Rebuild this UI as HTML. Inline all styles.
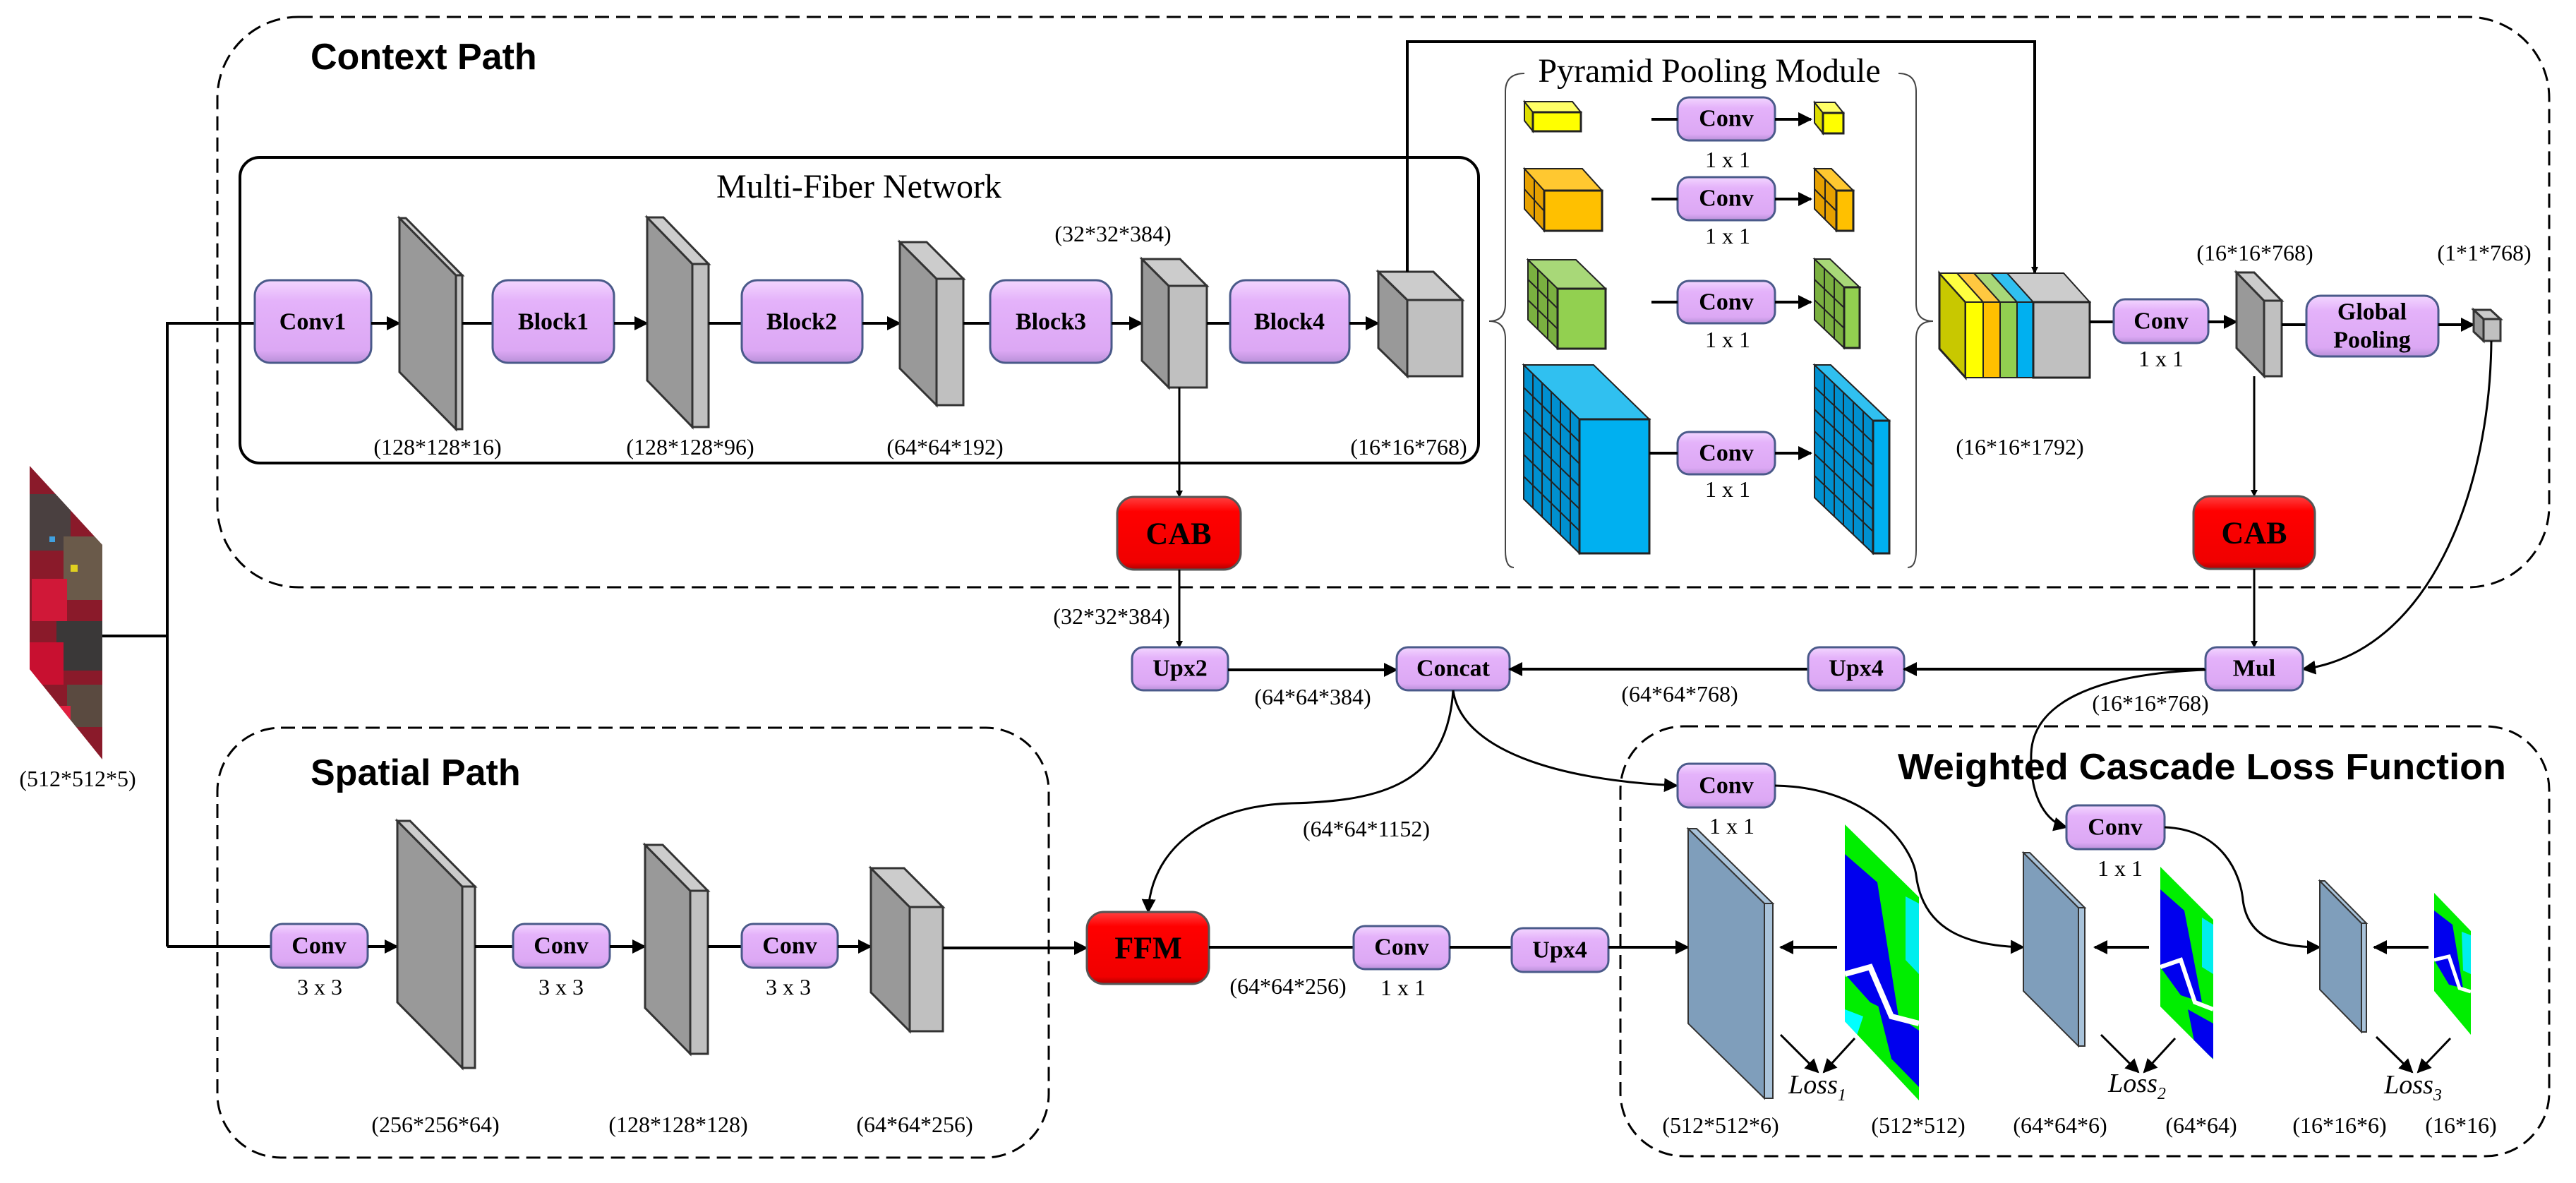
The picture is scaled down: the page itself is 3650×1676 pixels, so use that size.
<!DOCTYPE html>
<html><head><meta charset="utf-8"><style>
html,body{margin:0;padding:0;background:#fff}
svg{display:block}
.lb{font-family:"Liberation Serif",serif;font-size:32px;fill:#000;text-anchor:middle}
.bt{font-family:"Liberation Serif",serif;font-size:34px;font-weight:bold;fill:#000;text-anchor:middle;dominant-baseline:central}
.ht{font-family:"Liberation Sans",sans-serif;font-size:52px;font-weight:bold;fill:#000}
.pb{fill:url(#pg);stroke:#4a5a8a;stroke-width:3}
.rb{fill:url(#rg);stroke:#555;stroke-width:3}
.ln{stroke:#000;stroke-width:4;fill:none}
.tn{stroke:#000;stroke-width:3;fill:none}
.sd{fill:#999;stroke:#333;stroke-width:3}
.fr{fill:#c0c0c0;stroke:#333;stroke-width:3}
.tp{fill:#ccc;stroke:#333;stroke-width:3}
.bs{fill:#7f9ebb;stroke:#333;stroke-width:2}
.bf{fill:#a9c3da;stroke:#333;stroke-width:2}
.gl{stroke:#222;stroke-width:2;fill:none}
</style></head><body>
<svg width="3650" height="1676" viewBox="0 0 3650 1676" xmlns="http://www.w3.org/2000/svg">
<defs>
<linearGradient id="pg" x1="0" y1="0" x2="0" y2="1"><stop offset="0" stop-color="#f3d6ff"/><stop offset="0.25" stop-color="#e4b2fa"/><stop offset="0.85" stop-color="#dca8f4"/><stop offset="1" stop-color="#b890d8"/></linearGradient>
<linearGradient id="rg" x1="0" y1="0" x2="0" y2="1"><stop offset="0" stop-color="#ff4040"/><stop offset="0.2" stop-color="#ff0000"/><stop offset="0.9" stop-color="#f00000"/><stop offset="1" stop-color="#b00000"/></linearGradient>
<linearGradient id="img" x1="0" y1="0" x2="1" y2="1"><stop offset="0" stop-color="#b01030"/><stop offset="0.3" stop-color="#5a4a48"/><stop offset="0.5" stop-color="#c01838"/><stop offset="0.7" stop-color="#6a5a50"/><stop offset="1" stop-color="#a01030"/></linearGradient>
<marker id="ar" markerWidth="10" markerHeight="10" refX="9" refY="5" orient="auto" markerUnits="userSpaceOnUse" viewBox="0 0 10 10"><path d="M0,0 L10,5 L0,10 z" fill="#000"/></marker>
<marker id="ab" markerWidth="20" markerHeight="20" refX="18" refY="10" orient="auto" markerUnits="userSpaceOnUse" viewBox="0 0 20 20"><path d="M0,0 L20,10 L0,20 z" fill="#000"/></marker>
<clipPath id="m1"><polygon points="2614,1168 2719,1271 2719,1559 2614,1447"/></clipPath>
<clipPath id="m2"><polygon points="3061,1228 3136,1303 3136,1501 3061,1426"/></clipPath>
<clipPath id="m3"><polygon points="3449,1265 3501,1319 3501,1466 3449,1404"/></clipPath>
<clipPath id="im"><polygon points="42,660 145,772 145,1076 42,948"/></clipPath>
</defs>

<!-- dashed containers -->
<rect x="308" y="24" width="3304" height="808" rx="115" ry="115" fill="none" stroke="#000" stroke-width="3" stroke-dasharray="20,10"/>
<rect x="308" y="1031" width="1178" height="609" rx="90" ry="90" fill="none" stroke="#000" stroke-width="3" stroke-dasharray="20,10"/>
<rect x="2296" y="1029" width="1316" height="609" rx="90" ry="90" fill="none" stroke="#000" stroke-width="3" stroke-dasharray="20,10"/>
<text class="ht" x="440" y="98">Context Path</text>
<text class="ht" x="440" y="1112">Spatial Path</text>
<text class="ht" x="2689" y="1104" textLength="862" lengthAdjust="spacingAndGlyphs">Weighted Cascade Loss Function</text>

<!-- MFN -->
<rect x="340" y="223" width="1755" height="433" rx="28" fill="none" stroke="#000" stroke-width="4"/>
<text x="1217" y="280" style="font-family:'Liberation Serif',serif;font-size:48px;text-anchor:middle">Multi-Fiber Network</text>

<!-- input image -->
<g clip-path="url(#im)">
<rect x="40" y="650" width="110" height="430" fill="#8a1a2a"/>
<rect x="40" y="700" width="60" height="80" fill="#4a4040"/>
<rect x="90" y="760" width="60" height="90" fill="#6a5a4a"/>
<rect x="45" y="820" width="50" height="60" fill="#d01838"/>
<rect x="80" y="880" width="70" height="70" fill="#3a3838"/>
<rect x="40" y="910" width="50" height="60" fill="#c81030"/>
<rect x="95" y="970" width="55" height="60" fill="#5a4a40"/>
<rect x="60" y="1000" width="40" height="40" fill="#e02040"/>
<rect x="100" y="800" width="10" height="10" fill="#e0d020"/>
<rect x="70" y="760" width="8" height="8" fill="#40a0e0"/>
</g>
<text class="lb" x="110" y="1114">(512*512*5)</text>

<!-- input lines -->
<polyline class="ln" points="145,901 237,901"/>
<polyline class="ln" points="237,1341 237,458 361,458"/>
<polyline class="ln" points="237,1341 384,1341"/>

<!-- main row -->
<rect class="pb" x="361" y="397" width="165" height="117" rx="22"/><text class="bt" x="443" y="456">Conv1</text>
<line class="ln" x1="526" y1="458" x2="566" y2="458" marker-end="url(#ab)"/>
<polygon class="sd" points="566,309 646,390 646,608 566,527"/><polygon class="tp" points="566,309 575,309 655,390 646,390"/><rect class="fr" x="646" y="390" width="9" height="218"/>
<line class="ln" x1="655" y1="458" x2="698" y2="458"/>
<rect class="pb" x="698" y="397" width="172" height="117" rx="22"/><text class="bt" x="784" y="456">Block1</text>
<line class="ln" x1="870" y1="458" x2="917" y2="458" marker-end="url(#ab)"/>
<polygon class="sd" points="917,308 981,374 981,605 917,539"/><polygon class="tp" points="917,308 940,308 1004,374 981,374"/><rect class="fr" x="981" y="374" width="23" height="231"/>
<line class="ln" x1="1004" y1="458" x2="1051" y2="458"/>
<rect class="pb" x="1051" y="397" width="171" height="117" rx="22"/><text class="bt" x="1136" y="456">Block2</text>
<line class="ln" x1="1222" y1="458" x2="1275" y2="458" marker-end="url(#ab)"/>
<polygon class="sd" points="1275,343 1327,395 1327,574 1275,522"/><polygon class="tp" points="1275,343 1313,343 1365,395 1327,395"/><rect class="fr" x="1327" y="395" width="38" height="179"/>
<line class="ln" x1="1365" y1="458" x2="1403" y2="458"/>
<rect class="pb" x="1403" y="397" width="172" height="117" rx="22"/><text class="bt" x="1489" y="456">Block3</text>
<line class="ln" x1="1575" y1="458" x2="1618" y2="458" marker-end="url(#ab)"/>
<polygon class="sd" points="1618,367 1656,405 1656,549 1618,511"/><polygon class="tp" points="1618,367 1672,367 1710,405 1656,405"/><rect class="fr" x="1656" y="405" width="54" height="144"/>
<line class="ln" x1="1710" y1="458" x2="1743" y2="458"/>
<rect class="pb" x="1743" y="397" width="169" height="117" rx="22"/><text class="bt" x="1827" y="456">Block4</text>
<line class="ln" x1="1912" y1="458" x2="1953" y2="458" marker-end="url(#ab)"/>
<polygon class="sd" points="1953,385 1994,425 1994,533 1953,493"/><polygon class="tp" points="1953,385 2031,385 2072,425 1994,425"/><rect class="fr" x="1994" y="425" width="78" height="108"/>

<text class="lb" x="1577" y="342">(32*32*384)</text>
<text class="lb" x="620" y="644">(128*128*16)</text>
<text class="lb" x="978" y="644">(128*128*96)</text>
<text class="lb" x="1339" y="644">(64*64*192)</text>
<text class="lb" x="1996" y="644">(16*16*768)</text>

<!-- skip line to concat block -->
<polyline class="ln" points="1994,385 1994,59 2883,59 2883,387" marker-end="url(#ar)"/>

<!-- CAB1 -->
<line class="tn" x1="1671" y1="549" x2="1671" y2="704" marker-end="url(#ar)"/>
<rect class="rb" x="1583" y="704" width="175" height="103" rx="24"/><text class="bt" x="1670" y="756" style="font-size:44px">CAB</text>
<line class="tn" x1="1671" y1="807" x2="1671" y2="917" marker-end="url(#ar)"/>
<text class="lb" x="1575" y="884">(32*32*384)</text>

<!-- PPM -->
<text x="2422" y="116" style="font-family:'Liberation Serif',serif;font-size:48px;text-anchor:middle">Pyramid Pooling Module</text>
<path d="M2160,104 Q2133,104 2133,130 L2133,430 Q2133,455 2110,455 Q2133,455 2133,480 L2133,780 Q2133,804 2145,804" fill="none" stroke="#444" stroke-width="2"/>
<path d="M2690,104 Q2715,104 2715,130 L2715,430 Q2715,455 2739,455 Q2715,455 2715,480 L2715,780 Q2715,804 2703,804" fill="none" stroke="#444" stroke-width="2"/>

<!-- yellow -->
<polygon points="2160,144 2172,159 2172,186 2160,171" fill="#dddd00" stroke="#222" stroke-width="2"/>
<polygon points="2160,144 2228,144 2240,159 2172,159" fill="#ffff66" stroke="#222" stroke-width="2"/>
<rect x="2172" y="159" width="68" height="27" fill="#ffff00" stroke="#222" stroke-width="3"/>
<!-- orange -->
<polygon points="2160,239 2188,270 2188,327 2160,296" fill="#e6a000" stroke="#222" stroke-width="2"/>
<polygon points="2160,239 2242,239 2270,270 2188,270" fill="#ffc830" stroke="#222" stroke-width="2"/>
<rect x="2188" y="270" width="82" height="57" fill="#ffc000" stroke="#222" stroke-width="3"/>
<path class="gl" d="M2174,254 L2174,311 M2160,268 L2188,299"/>
<!-- green -->
<polygon points="2165,368 2207,409 2207,494 2165,453" fill="#7ab040" stroke="#222" stroke-width="2"/>
<polygon points="2165,368 2233,368 2275,409 2207,409" fill="#a8d878" stroke="#222" stroke-width="2"/>
<rect x="2207" y="409" width="68" height="85" fill="#92d050" stroke="#222" stroke-width="3"/>
<path class="gl" d="M2179,382 L2179,467 M2193,395 L2193,480 M2165,396 L2207,437 M2165,425 L2207,466"/>
<!-- blue -->
<polygon points="2159,517 2238,594 2238,784 2159,707" fill="#0090d0" stroke="#222" stroke-width="2"/>
<polygon points="2159,517 2258,517 2337,594 2238,594" fill="#30c0f0" stroke="#222" stroke-width="2"/>
<rect x="2238" y="594" width="99" height="190" fill="#00b0f0" stroke="#222" stroke-width="3"/>
<path class="gl" d="M2172,530 L2172,720 M2185,542 L2185,732 M2198,555 L2198,745 M2211,568 L2211,758 M2225,581 L2225,771 M2159,549 L2238,626 M2159,580 L2238,657 M2159,612 L2238,689 M2159,644 L2238,721 M2159,675 L2238,752"/>

<!-- PPM convs -->
<rect class="pb" x="2377" y="138" width="138" height="61" rx="16"/><text class="bt" x="2446" y="168">Conv</text>
<rect class="pb" x="2377" y="251" width="138" height="61" rx="16"/><text class="bt" x="2446" y="281">Conv</text>
<rect class="pb" x="2377" y="398" width="138" height="60" rx="16"/><text class="bt" x="2446" y="428">Conv</text>
<rect class="pb" x="2377" y="612" width="138" height="60" rx="16"/><text class="bt" x="2446" y="642">Conv</text>
<text class="lb" x="2448" y="237">1 x 1</text><text class="lb" x="2448" y="345">1 x 1</text><text class="lb" x="2448" y="492">1 x 1</text><text class="lb" x="2448" y="704">1 x 1</text>
<line class="ln" x1="2340" y1="169" x2="2377" y2="169"/><line class="ln" x1="2340" y1="282" x2="2377" y2="282"/><line class="ln" x1="2340" y1="428" x2="2377" y2="428"/><line class="ln" x1="2337" y1="642" x2="2377" y2="642"/>
<line class="ln" x1="2515" y1="169" x2="2566" y2="169" marker-end="url(#ab)"/><line class="ln" x1="2515" y1="282" x2="2566" y2="282" marker-end="url(#ab)"/><line class="ln" x1="2515" y1="428" x2="2566" y2="428" marker-end="url(#ab)"/><line class="ln" x1="2515" y1="642" x2="2566" y2="642" marker-end="url(#ab)"/>

<!-- PPM outputs -->
<polygon points="2571,145 2583,160 2583,189 2571,174" fill="#dddd00" stroke="#222" stroke-width="2"/>
<polygon points="2571,145 2600,145 2612,160 2583,160" fill="#ffff66" stroke="#222" stroke-width="2"/>
<rect x="2583" y="160" width="29" height="29" fill="#ffff00" stroke="#222" stroke-width="3"/>
<polygon points="2571,239 2602,270 2602,327 2571,296" fill="#e6a000" stroke="#222" stroke-width="2"/>
<polygon points="2571,239 2595,239 2626,270 2602,270" fill="#ffc830" stroke="#222" stroke-width="2"/>
<rect x="2602" y="270" width="24" height="57" fill="#ffc000" stroke="#222" stroke-width="3"/>
<path class="gl" d="M2586,254 L2586,311 M2571,268 L2602,299"/>
<polygon points="2571,367 2613,407 2613,493 2571,453" fill="#7ab040" stroke="#222" stroke-width="2"/>
<polygon points="2571,367 2593,367 2635,407 2613,407" fill="#a8d878" stroke="#222" stroke-width="2"/>
<rect x="2613" y="407" width="22" height="86" fill="#92d050" stroke="#222" stroke-width="3"/>
<path class="gl" d="M2585,380 L2585,466 M2599,394 L2599,480 M2571,396 L2613,436 M2571,425 L2613,465"/>
<polygon points="2571,517 2654,596 2654,784 2571,705" fill="#0090d0" stroke="#222" stroke-width="2"/>
<polygon points="2571,517 2594,517 2677,596 2654,596" fill="#30c0f0" stroke="#222" stroke-width="2"/>
<rect x="2654" y="596" width="23" height="188" fill="#00b0f0" stroke="#222" stroke-width="3"/>
<path class="gl" d="M2585,530 L2585,718 M2599,543 L2599,731 M2612,556 L2612,744 M2626,569 L2626,757 M2640,583 L2640,771 M2571,548 L2654,627 M2571,580 L2654,659 M2571,611 L2654,690 M2571,643 L2654,722 M2571,674 L2654,753"/>

<!-- concat block -->
<polygon points="2748,387 2785,428 2785,535 2748,494" fill="#c8c800" stroke="#222" stroke-width="3"/>
<polygon points="2748,387 2773,387 2810,428 2785,428" fill="#ffff40" stroke="#222" stroke-width="2"/>
<polygon points="2773,387 2797,387 2834,428 2810,428" fill="#ffc840" stroke="#222" stroke-width="2"/>
<polygon points="2797,387 2821,387 2858,428 2834,428" fill="#a8d878" stroke="#222" stroke-width="2"/>
<polygon points="2821,387 2844,387 2881,428 2858,428" fill="#30c0f0" stroke="#222" stroke-width="2"/>
<polygon points="2844,387 2924,387 2961,428 2881,428" fill="#cccccc" stroke="#222" stroke-width="2"/>
<rect x="2785" y="428" width="25" height="107" fill="#ffff00" stroke="#222" stroke-width="2"/>
<rect x="2810" y="428" width="24" height="107" fill="#ffc000" stroke="#222" stroke-width="2"/>
<rect x="2834" y="428" width="24" height="107" fill="#92d050" stroke="#222" stroke-width="2"/>
<rect x="2858" y="428" width="23" height="107" fill="#00b0f0" stroke="#222" stroke-width="2"/>
<rect x="2881" y="428" width="80" height="107" fill="#c0c0c0" stroke="#222" stroke-width="3"/>
<text class="lb" x="2862" y="644">(16*16*1792)</text>

<line class="ln" x1="2961" y1="456" x2="2995" y2="456"/>
<rect class="pb" x="2995" y="424" width="134" height="62" rx="16"/><text class="bt" x="3062" y="455">Conv</text>
<text class="lb" x="3062" y="519">1 x 1</text>
<line class="ln" x1="3129" y1="456" x2="3169" y2="456" marker-end="url(#ab)"/>
<polygon class="sd" points="3169,386 3208,426 3208,533 3169,493"/><polygon class="tp" points="3169,386 3194,386 3233,426 3208,426"/><rect class="fr" x="3208" y="426" width="25" height="107"/>
<text class="lb" x="3195" y="369">(16*16*768)</text>
<line class="ln" x1="3233" y1="460" x2="3268" y2="460"/>
<rect class="pb" x="3268" y="419" width="187" height="86" rx="20"/>
<text class="bt" x="3361" y="442">Global</text><text class="bt" x="3361" y="482">Pooling</text>
<line class="ln" x1="3455" y1="460" x2="3505" y2="460" marker-end="url(#ab)"/>
<polygon class="sd" points="3505,439 3519,452 3519,483 3505,470"/><polygon class="tp" points="3505,439 3529,439 3543,452 3519,452"/><rect class="fr" x="3519" y="452" width="24" height="31"/>
<text class="lb" x="3520" y="369">(1*1*768)</text>

<!-- CAB2 -->
<line class="tn" x1="3194" y1="533" x2="3194" y2="703" marker-end="url(#ar)"/>
<rect class="rb" x="3108" y="703" width="172" height="103" rx="24"/><text class="bt" x="3194" y="755" style="font-size:44px">CAB</text>
<line class="tn" x1="3194" y1="806" x2="3194" y2="917" marker-end="url(#ar)"/>
<path class="tn" d="M3530,483 C3528,700 3440,925 3263,948" marker-end="url(#ab)"/>

<!-- middle row -->
<rect class="pb" x="1604" y="917" width="136" height="61" rx="16"/><text class="bt" x="1672" y="947">Upx2</text>
<line class="ln" x1="1740" y1="949" x2="1979" y2="949" marker-end="url(#ab)"/>
<text class="lb" x="1860" y="998">(64*64*384)</text>
<rect class="pb" x="1979" y="917" width="160" height="61" rx="16"/><text class="bt" x="2059" y="947">Concat</text>
<line class="ln" x1="2562" y1="948" x2="2139" y2="948" marker-end="url(#ab)"/>
<rect class="pb" x="2562" y="917" width="136" height="61" rx="16"/><text class="bt" x="2630" y="947">Upx4</text>
<line class="ln" x1="3125" y1="948" x2="2698" y2="948" marker-end="url(#ab)"/>
<text class="lb" x="2380" y="994">(64*64*768)</text>
<rect class="pb" x="3125" y="917" width="138" height="61" rx="16"/><text class="bt" x="3194" y="947">Mul</text>
<text class="lb" x="3047" y="1007">(16*16*768)</text>

<!-- curves from concat -->
<path class="tn" d="M2059,978 C2050,1110 1960,1135 1830,1138 C1700,1142 1630,1210 1627,1292" marker-end="url(#ab)"/>
<path class="tn" d="M2059,978 C2070,1060 2200,1105 2376,1113" marker-end="url(#ab)"/>
<text class="lb" x="1936" y="1185">(64*64*1152)</text>
<path class="tn" d="M3125,949 C2960,955 2880,1000 2878,1068 C2876,1130 2900,1165 2928,1172" marker-end="url(#ab)"/>

<!-- spatial path -->
<rect class="pb" x="384" y="1309" width="137" height="62" rx="16"/><text class="bt" x="452" y="1340">Conv</text>
<text class="lb" x="453" y="1409">3 x 3</text>
<line class="ln" x1="521" y1="1341" x2="563" y2="1341" marker-end="url(#ab)"/>
<polygon class="sd" points="563,1163 655,1256 655,1513 563,1420"/><polygon class="tp" points="563,1163 581,1163 673,1256 655,1256"/><rect class="fr" x="655" y="1256" width="18" height="257"/>
<line class="ln" x1="673" y1="1341" x2="727" y2="1341"/>
<rect class="pb" x="727" y="1309" width="137" height="62" rx="16"/><text class="bt" x="795" y="1340">Conv</text>
<text class="lb" x="795" y="1409">3 x 3</text>
<line class="ln" x1="864" y1="1341" x2="914" y2="1341" marker-end="url(#ab)"/>
<polygon class="sd" points="914,1197 978,1262 978,1493 914,1428"/><polygon class="tp" points="914,1197 939,1197 1003,1262 978,1262"/><rect class="fr" x="978" y="1262" width="25" height="231"/>
<line class="ln" x1="1003" y1="1341" x2="1051" y2="1341"/>
<rect class="pb" x="1051" y="1309" width="136" height="62" rx="16"/><text class="bt" x="1119" y="1340">Conv</text>
<text class="lb" x="1117" y="1409">3 x 3</text>
<line class="ln" x1="1187" y1="1341" x2="1234" y2="1341" marker-end="url(#ab)"/>
<polygon class="sd" points="1234,1230 1289,1285 1289,1461 1234,1406"/><polygon class="tp" points="1234,1230 1281,1230 1336,1285 1289,1285"/><rect class="fr" x="1289" y="1285" width="47" height="176"/>
<text class="lb" x="617" y="1604">(256*256*64)</text>
<text class="lb" x="961" y="1604">(128*128*128)</text>
<text class="lb" x="1296" y="1604">(64*64*256)</text>
<line class="ln" x1="1336" y1="1343" x2="1540" y2="1343" marker-end="url(#ab)"/>
<rect class="rb" x="1540" y="1292" width="173" height="102" rx="24"/><text class="bt" x="1627" y="1343" style="font-size:44px">FFM</text>

<!-- bottom line -->
<line class="ln" x1="1713" y1="1342" x2="1918" y2="1342"/>
<text class="lb" x="1825" y="1408">(64*64*256)</text>
<rect class="pb" x="1918" y="1312" width="136" height="61" rx="16"/><text class="bt" x="1986" y="1342">Conv</text>
<text class="lb" x="1988" y="1410">1 x 1</text>
<line class="ln" x1="2054" y1="1342" x2="2142" y2="1342"/>
<rect class="pb" x="2142" y="1315" width="137" height="62" rx="16"/><text class="bt" x="2210" y="1346">Upx4</text>
<line class="ln" x1="2279" y1="1342" x2="2392" y2="1342" marker-end="url(#ab)"/>

<!-- loss region -->
<rect class="pb" x="2377" y="1082" width="138" height="62" rx="16"/><text class="bt" x="2446" y="1113">Conv</text>
<text class="lb" x="2454" y="1181">1 x 1</text>
<rect class="pb" x="2928" y="1141" width="139" height="62" rx="16"/><text class="bt" x="2997" y="1172">Conv</text>
<text class="lb" x="3004" y="1241">1 x 1</text>
<path class="tn" d="M2515,1113 C2650,1115 2710,1200 2715,1240 C2725,1320 2790,1340 2867,1342" marker-end="url(#ab)"/>
<path class="tn" d="M3067,1172 C3150,1175 3175,1240 3178,1275 C3185,1330 3230,1342 3287,1342" marker-end="url(#ab)"/>

<polygon class="bs" points="2392,1174 2500,1280 2500,1556 2392,1450"/><polygon class="bf" points="2392,1174 2404,1174 2512,1280 2500,1280"/><rect class="bf" x="2500" y="1280" width="12" height="276"/>
<polygon class="bs" points="2867,1208 2945,1286 2945,1482 2867,1404"/><polygon class="bf" points="2867,1208 2876,1208 2954,1286 2945,1286"/><rect class="bf" x="2945" y="1286" width="9" height="196"/>
<polygon class="bs" points="3287,1248 3346,1308 3346,1462 3287,1402"/><polygon class="bf" points="3287,1248 3294,1248 3353,1308 3346,1308"/><rect class="bf" x="3346" y="1308" width="7" height="154"/>

<!-- maps -->
<g clip-path="url(#m1)">
<rect x="2600" y="1160" width="130" height="410" fill="#00ee00"/>
<polygon points="2614,1210 2660,1250 2690,1440 2650,1420 2614,1380" fill="#0000ee"/>
<polygon points="2660,1420 2719,1460 2719,1540 2680,1500" fill="#0000ee"/>
<polygon points="2700,1270 2719,1280 2719,1380 2700,1360" fill="#00eeee"/>
<polyline points="2614,1380 2650,1370 2680,1440 2719,1450" fill="none" stroke="#fff" stroke-width="8"/>
<polygon points="2614,1430 2640,1440 2630,1470 2614,1460" fill="#00ffff"/>
</g>
<g clip-path="url(#m2)">
<rect x="3055" y="1220" width="90" height="290" fill="#00ee00"/>
<polygon points="3061,1260 3095,1290 3120,1420 3090,1410 3061,1370" fill="#0000ee"/>
<polygon points="3100,1430 3136,1450 3136,1500 3110,1480" fill="#0000ee"/>
<polyline points="3061,1370 3090,1360 3110,1420 3136,1430" fill="none" stroke="#fff" stroke-width="6"/>
<polygon points="3120,1300 3136,1310 3136,1380 3120,1370" fill="#00eeee"/>
</g>
<g clip-path="url(#m3)">
<rect x="3440" y="1260" width="70" height="210" fill="#00ee00"/>
<polygon points="3449,1290 3475,1310 3490,1400 3470,1395 3449,1360" fill="#0000ee"/>
<polyline points="3449,1360 3470,1355 3485,1400 3501,1405" fill="none" stroke="#fff" stroke-width="5"/>
<polygon points="3488,1320 3501,1325 3501,1380 3490,1375" fill="#00eeee"/>
</g>

<!-- map to slab arrows -->
<line class="ln" x1="2603" y1="1342" x2="2523" y2="1342" marker-end="url(#ab)"/>
<line class="ln" x1="3045" y1="1342" x2="2968" y2="1342" marker-end="url(#ab)"/>
<line class="ln" x1="3441" y1="1342" x2="3364" y2="1342" marker-end="url(#ab)"/>

<!-- loss arrows -->
<line class="tn" x1="2523" y1="1466" x2="2576" y2="1519" marker-end="url(#ab)"/>
<line class="tn" x1="2628" y1="1471" x2="2584" y2="1519" marker-end="url(#ab)"/>
<line class="tn" x1="2977" y1="1466" x2="3030" y2="1519" marker-end="url(#ab)"/>
<line class="tn" x1="3082" y1="1471" x2="3038" y2="1519" marker-end="url(#ab)"/>
<line class="tn" x1="3367" y1="1469" x2="3418" y2="1519" marker-end="url(#ab)"/>
<line class="tn" x1="3472" y1="1471" x2="3426" y2="1519" marker-end="url(#ab)"/>
<text x="2575" y="1549" style="font-family:'Liberation Serif',serif;font-size:38px;font-style:italic;text-anchor:middle">Loss<tspan font-size="24" dy="10">1</tspan></text>
<text x="3028" y="1547" style="font-family:'Liberation Serif',serif;font-size:38px;font-style:italic;text-anchor:middle">Loss<tspan font-size="24" dy="10">2</tspan></text>
<text x="3419" y="1549" style="font-family:'Liberation Serif',serif;font-size:38px;font-style:italic;text-anchor:middle">Loss<tspan font-size="24" dy="10">3</tspan></text>

<text class="lb" x="2438" y="1605">(512*512*6)</text>
<text class="lb" x="2718" y="1605">(512*512)</text>
<text class="lb" x="2919" y="1605">(64*64*6)</text>
<text class="lb" x="3119" y="1605">(64*64)</text>
<text class="lb" x="3315" y="1605">(16*16*6)</text>
<text class="lb" x="3487" y="1605">(16*16)</text>
</svg>
</body></html>
